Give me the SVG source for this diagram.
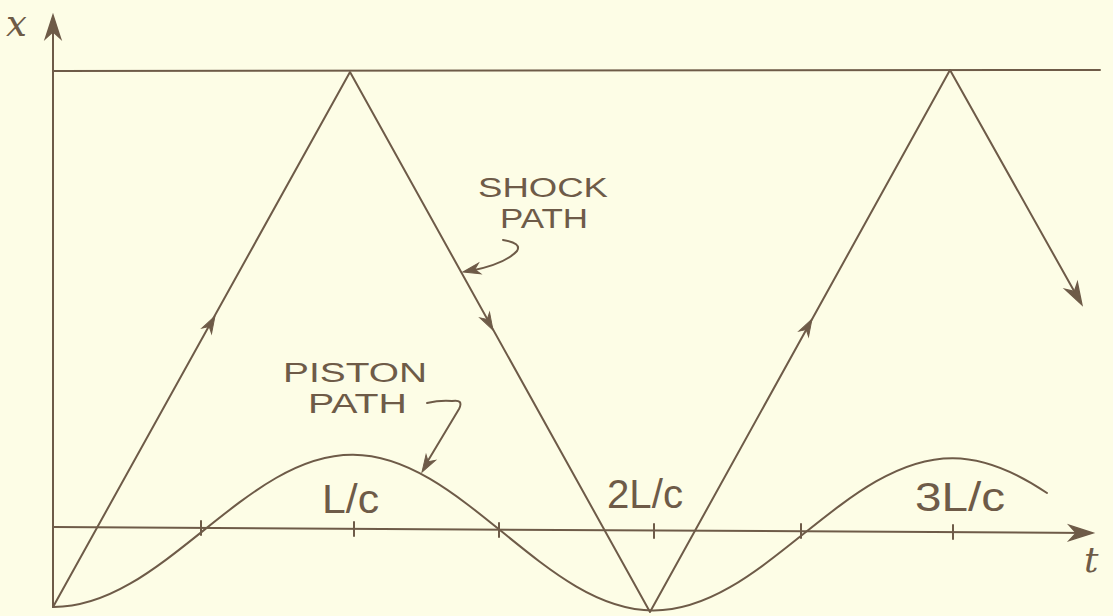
<svg xmlns="http://www.w3.org/2000/svg" width="1113" height="616" viewBox="0 0 1113 616">
<style>
.ln{fill:none;stroke:#6e5b48;stroke-width:2;stroke-linecap:round;stroke-linejoin:round}
.ah{fill:#6e5b48;stroke:#6e5b48;stroke-width:1}
.lbl{font-family:"Liberation Sans",Arial,sans-serif;fill:#6e5b48}
.var{font-family:"DejaVu Serif","Liberation Serif",serif;font-style:italic;fill:#6e5b48}
</style>
<defs>
<path id="head" d="M0,0 L-17,-5.5 L-12,0 L-17,5.5 Z"/>
</defs>
<rect width="1113" height="616" fill="#fdfde6"/>
<g id="axes">
<line class="ln" x1="53" y1="607" x2="53" y2="17"/>
<use href="#head" class="ah" transform="translate(53,15) rotate(-90) scale(1.4)"/>
<line class="ln" x1="53" y1="527" x2="1091" y2="533"/>
<use href="#head" class="ah" transform="translate(1093,533) rotate(0.3) scale(1.4)"/>
<line class="ln" x1="53" y1="71" x2="1100" y2="70"/>
<g id="ticks">
<line class="ln" x1="201" y1="521" x2="201" y2="535"/>
<line class="ln" x1="354" y1="522" x2="354" y2="536"/>
<line class="ln" x1="499" y1="523" x2="499" y2="537"/>
<line class="ln" x1="654" y1="524" x2="654" y2="538"/>
<line class="ln" x1="801" y1="524" x2="801" y2="538"/>
<line class="ln" x1="953" y1="525" x2="953" y2="539"/>
</g>
<text class="var" x="6" y="36" font-size="37">x</text>
<text class="var" x="1084" y="572" font-size="36">t</text>
</g>
<g id="tick-labels">
<text class="lbl" x="322" y="513" font-size="40" textLength="57" lengthAdjust="spacingAndGlyphs">L/c</text>
<text class="lbl" x="607" y="508" font-size="40" textLength="76" lengthAdjust="spacingAndGlyphs">2L/c</text>
<text class="lbl" x="915" y="511" font-size="40" textLength="90" lengthAdjust="spacingAndGlyphs">3L/c</text>
</g>
<g id="shock-path">
<polyline class="ln" points="53,607 350,72 650,612 950,70 1078,298"/>
<use href="#head" class="ah" transform="translate(1082,305) rotate(60.7) scale(1.3)"/>
<use href="#head" class="ah" transform="translate(215,316) rotate(-61)"/>
<use href="#head" class="ah" transform="translate(493,330) rotate(61)"/>
<use href="#head" class="ah" transform="translate(812,319) rotate(-61)"/>
</g>
<g id="piston-path">
<path class="ln" transform="matrix(1,0.00577,0,1,0,-0.306)" d="M53,607 C107.29,607 154.08,569.45 203,530 C251.92,490.55 298.71,453 353,453 C407.29,453 454.08,490.55 503,530 C551.92,569.45 598.71,607 653,607 C707.29,607 754.08,569.45 803,530 C851.92,490.55 898.71,453 953,453 C984.3,453 1015.7,466.3 1047,487.3"/>
</g>
<g id="shock-label">
<text class="lbl" x="478" y="197" font-size="27" textLength="130" lengthAdjust="spacingAndGlyphs">SHOCK</text>
<text class="lbl" x="500" y="228" font-size="27" textLength="88" lengthAdjust="spacingAndGlyphs">PATH</text>
<path class="ln" d="M503,240 Q522,243 517,251 Q505,264 470,271"/>
<use href="#head" class="ah" transform="translate(463,272) rotate(168)"/>
</g>
<g id="piston-label">
<text class="lbl" x="283" y="382" font-size="27" textLength="144" lengthAdjust="spacingAndGlyphs">PISTON</text>
<text class="lbl" x="308" y="413" font-size="27" textLength="99" lengthAdjust="spacingAndGlyphs">PATH</text>
<path class="ln" d="M427,403 Q440,400 452,401 Q464,399 459,409 L426,464"/>
<use href="#head" class="ah" transform="translate(422,472) rotate(121)"/>
</g>
</svg>
